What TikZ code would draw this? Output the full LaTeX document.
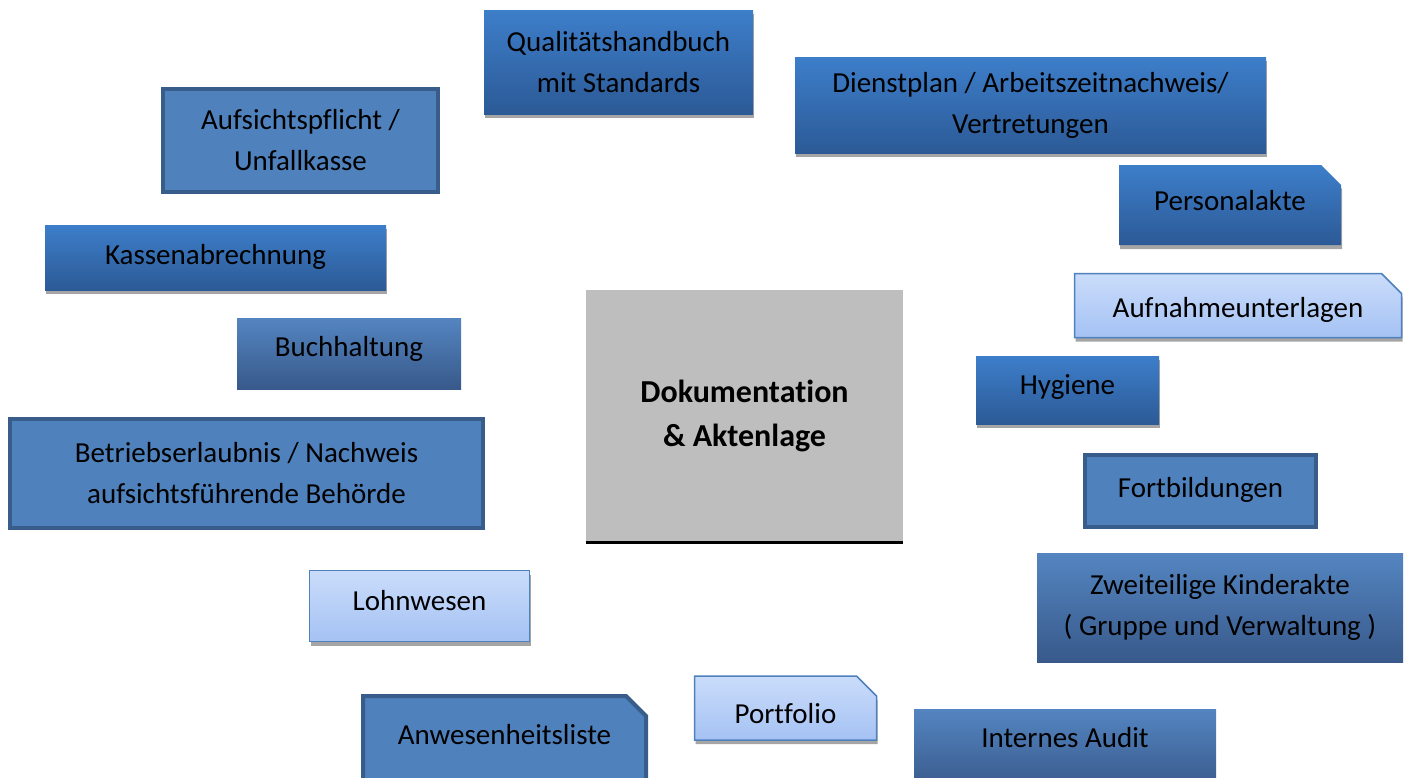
\documentclass[tikz,border=0pt]{standalone}
\usepackage{fontspec}
\setmainfont{Carlito}[Ligatures=NoCommon]
\usetikzlibrary{shapes.misc,shadows}
\definecolor{bTop}{RGB}{61,126,202}
\definecolor{bBot}{RGB}{44,90,150}
\definecolor{mTop}{RGB}{84,133,193}
\definecolor{mBot}{RGB}{56,89,138}
\definecolor{flatFill}{RGB}{79,129,189}
\definecolor{flatEdge}{RGB}{56,93,138}
\definecolor{lTop}{RGB}{202,220,250}
\definecolor{lBot}{RGB}{165,194,244}
\definecolor{lEdge}{RGB}{79,129,189}
\definecolor{shadeGray}{RGB}{165,165,165}
\definecolor{coreGray}{RGB}{190,190,190}
\begin{document}
\begin{tikzpicture}[x=1pt,y=-1pt,
  base/.style={rectangle, inner sep=0pt, align=center, font=\fontsize{29}{41}\selectfont, text=black},
  sh/.style={drop shadow={shadow xshift=1pt, shadow yshift=-4pt, fill=shadeGray, opacity=1}},
  bright/.style={base, sh, top color=bTop, bottom color=bBot, draw=none},
  muted/.style={base, top color=mTop, bottom color=mBot, draw=none},
  flatbox/.style={base, fill=flatFill, draw=flatEdge, line width=4pt},
  light/.style={base, sh, top color=lTop, bottom color=lBot, draw=lEdge, line width=1.5pt},
  clipped/.style={chamfered rectangle, chamfered rectangle corners=north east, chamfered rectangle xsep=10pt, chamfered rectangle ysep=10pt},
  sz/.style 2 args={minimum width=#1pt, minimum height=#2pt},
  tx/.style 2 args={text height=#1pt, text depth=#2pt},
]
\useasboundingbox (0,0) rectangle (1408,777);
\clip (0,0) rectangle (1408,777);

\node[bright, sz={269}{104}] (qual) at (618.5,62) {Qualitätshandbuch\\mit Standards};
\node[bright, sz={471}{96}] (dienst) at (1030.5,105) {Dienstplan / Arbeitszeitnachweis/\\Vertretungen};
\node[flatbox, sz={275}{103}] (aufs) at (300.5,140.5) {Aufsichtspflicht /\\Unfallkasse};
\node[bright, clipped, sz={222}{80}, tx={21}{11}] (pers) at (1230,205) {Personalakte};
\node[bright, sz={341}{65}, tx={21}{8}] (kasse) at (215.5,257.5) {Kassenabrechnung};
\node[light, clipped, sz={327}{64}, tx={31}{7}] (aufn) at (1238,305.5) {Aufnahmeunterlagen};
\node[base, fill=coreGray, sz={317}{252}, font=\fontsize{32}{44}\selectfont\bfseries] (core) at (744.5,416) {Dokumentation\\\& Aktenlage};
\draw[line width=3pt] (core.south west) -- (core.south east);
\node[muted, sz={224}{71}, tx={21}{16}] (buch) at (349,353.5) {Buchhaltung};
\node[bright, sz={183}{68}, tx={21}{13}] (hyg) at (1067.5,390) {Hygiene};
\node[flatbox, sz={473}{109}] (betr) at (246.5,473.5) {Betriebserlaubnis / Nachweis\\aufsichtsführende Behörde};
\node[flatbox, sz={231}{72}, tx={21}{9}] (fort) at (1200.5,491) {Fortbildungen};
\node[muted, sz={366}{109}] (zwei) at (1220,607.5) {Zweiteilige Kinderakte\\( Gruppe und Verwaltung )};
\node[light, sz={220}{71}, tx={21}{13}] (lohn) at (419.5,606) {Lohnwesen};
\node[light, clipped, sz={182}{61}, tx={37}{7}] (port) at (785.5,708) {Portfolio};
\node[flatbox, clipped, sz={283}{92}, tx={21}{17}] (anw) at (504.5,742) {Anwesenheitsliste};
\node[muted, sz={302}{81}, tx={21}{26}] (audit) at (1065,749.5) {Internes Audit};
\end{tikzpicture}
\end{document}
